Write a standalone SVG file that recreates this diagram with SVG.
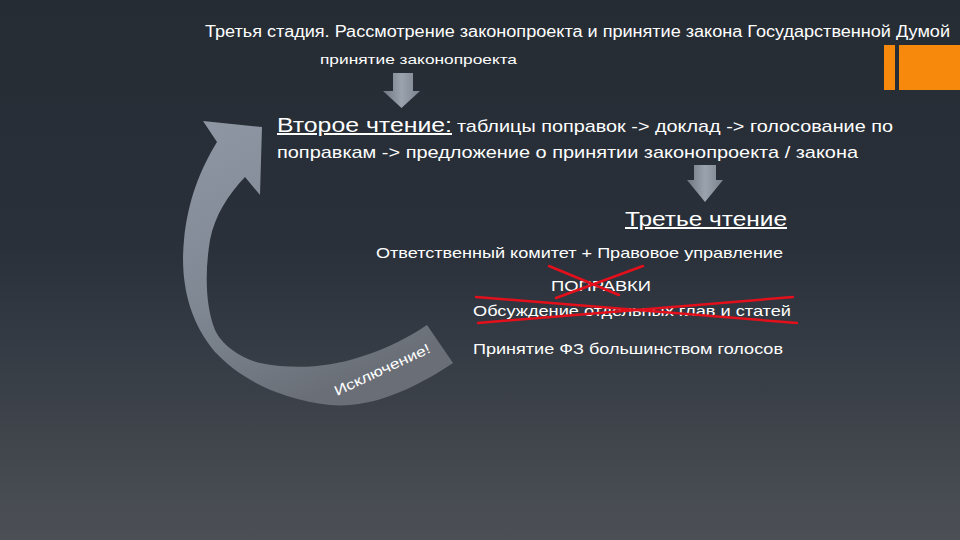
<svg xmlns="http://www.w3.org/2000/svg" width="960" height="540" viewBox="0 0 960 540">
<defs>
<linearGradient id="bg" x1="0" y1="0" x2="0" y2="1">
<stop offset="0" stop-color="#262c33"/>
<stop offset="0.45" stop-color="#29303a"/>
<stop offset="1" stop-color="#4c5056"/>
</linearGradient>
<linearGradient id="arc" x1="0" y1="0" x2="0.4" y2="1">
<stop offset="0" stop-color="#8e97a3"/>
<stop offset="0.6" stop-color="#7e8792"/>
<stop offset="1" stop-color="#6a6f77"/>
</linearGradient>
<linearGradient id="dn" x1="0" y1="0" x2="1" y2="0">
<stop offset="0" stop-color="#6f7782"/>
<stop offset="0.5" stop-color="#9aa3ae"/>
<stop offset="1" stop-color="#7a828d"/>
</linearGradient>
<style>
text{font-family:"Liberation Sans",Arial,sans-serif;fill:#ffffff}
.s15{font-size:15px}
.red{stroke:#e3101c;stroke-width:2.5;stroke-linecap:round}
</style>
</defs>
<rect width="960" height="540" fill="url(#bg)"/>
<g id="orange-bars">
<rect x="884" y="45" width="11" height="45" fill="#f7890d"/>
<rect x="899" y="45" width="61" height="45" fill="#f7890d"/>
</g>
<g id="title">
<text x="205" y="37" font-size="16" textLength="745" lengthAdjust="spacingAndGlyphs">Третья стадия. Рассмотрение законопроекта и принятие закона Государственной Думой</text>
</g>
<g id="first">
<text x="320" y="64" font-size="13" textLength="197" lengthAdjust="spacingAndGlyphs">принятие законопроекта</text>
</g>
<g id="connectors">
<path id="down1" d="M393 73 H413 V91 H420 L401.5 108 L383 91 H393 Z" fill="url(#dn)"/>
<path id="down2" d="M694 165 H716 V180 H723 L705 202 L687 180 H694 Z" fill="url(#dn)"/>
<path id="curve" d="M427 325 C410 336 390 348 360 357 C330 367 295 370 260 363 C240 358 222 345 215 330 C205 305 205 270 210 240 C215 215 228 195 245 177 L260 195 L262 127 L203 121 L217 142 C200 170 188 200 184 240 C180 280 188 320 215 352 C240 378 275 398 330 405 C365 408 405 395 453 363 Z" fill="url(#arc)"/>
</g>
<g id="second">
<text x="277" y="132" font-size="20" text-decoration="underline" textLength="175" lengthAdjust="spacingAndGlyphs">Второе чтение:</text>
<text x="457" y="132" font-size="17" textLength="436" lengthAdjust="spacingAndGlyphs">таблицы поправок -&gt; доклад -&gt; голосование по</text>
<text x="277" y="158" font-size="17" textLength="581" lengthAdjust="spacingAndGlyphs">поправкам -&gt; предложение о принятии законопроекта / закона</text>
</g>
<g id="third">
<text x="625" y="226" font-size="20" text-decoration="underline" textLength="162" lengthAdjust="spacingAndGlyphs">Третье чтение</text>
<text x="376" y="258" class="s15" textLength="407" lengthAdjust="spacingAndGlyphs">Ответственный комитет + Правовое управление</text>
<text x="551" y="291" class="s15" textLength="100" lengthAdjust="spacingAndGlyphs">ПОПРАВКИ</text>
<text x="473" y="316" class="s15" textLength="318" lengthAdjust="spacingAndGlyphs">Обсуждение отдельных глав и статей</text>
<text x="473" y="354" class="s15" textLength="310" lengthAdjust="spacingAndGlyphs">Принятие ФЗ большинством голосов</text>
</g>
<g id="strikes">
<line class="red" x1="549" y1="266" x2="619" y2="295"/>
<line class="red" x1="643" y1="266" x2="556" y2="298"/>
<line class="red" x1="476" y1="297" x2="797" y2="323"/>
<line class="red" x1="478" y1="323" x2="793" y2="297"/>
</g>
<g id="exception">
<text x="0" y="0" font-size="14" transform="translate(337 396) rotate(-25)" textLength="104" lengthAdjust="spacingAndGlyphs">Исключение!</text>
</g>
</svg>
